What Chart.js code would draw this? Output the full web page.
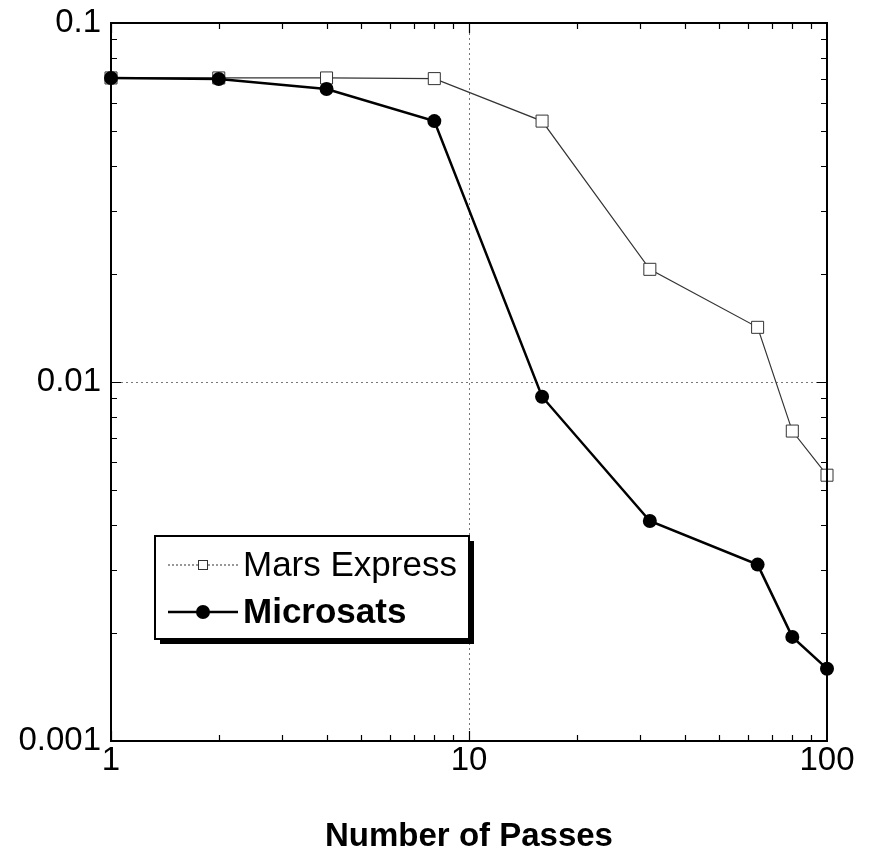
<!DOCTYPE html>
<html>
<head>
<meta charset="utf-8">
<script src="https://cdn.jsdelivr.net/npm/chart.js@4/dist/chart.umd.min.js"></script>
<style>
	html, body { margin: 0; padding: 0; background: #fff; }
	#wrap { width: 876px; height: 864px; position: relative; }
</style>
</head>
<body>
<div id="wrap"><canvas id="passes"></canvas></div>
<script>

// number of passes (x) and the two series (y)
var passes = [1, 2, 4, 8, 16, 32, 64, 80, 100];
var marsExpress = [0.0703, 0.0703, 0.0703, 0.0700, 0.0533, 0.0206, 0.0142, 0.0073, 0.0055];
var microsats = [0.0703, 0.0698, 0.0655, 0.0533, 0.0091, 0.0041, 0.0031, 0.00195, 0.00159];

var xTicks = [1, 10, 100];
var xTickLabels = ["1", "10", "100"];
var yTicks = [0.001, 0.01, 0.1];
var yTickLabels = ["0.001", "0.01", "0.1"];

var FONT = "'Liberation Sans', Arial, Helvetica, sans-serif";

function toPoints(xs, ys) {
	return xs.map(function(x, i) { return { x : x, y : ys[i] }; });
}

// frame with inward minor/major tick marks on all four sides
var framePlugin = {
	id : "frame",
	afterDatasetsDraw : function(chart) {
		var c = chart.ctx, a = chart.chartArea;
		var xs = chart.scales.x, ys = chart.scales.y;
		c.save();
		c.strokeStyle = "#000";
		c.lineWidth = 1.2;
		c.beginPath();
		for (var d = 1; d < 100; d *= 10) {
			for (var m = 1; m <= 9; m++) {
				var px = Math.round(xs.getPixelForValue(d * m)) + 0.5;
				var len = (m === 1) ? 10 : 6;
				c.moveTo(px, a.bottom); c.lineTo(px, a.bottom - len);
				c.moveTo(px, a.top); c.lineTo(px, a.top + len);
			}
		}
		for (var e = 0.001; e < 0.1; e *= 10) {
			for (var n = 1; n <= 9; n++) {
				var py = Math.round(ys.getPixelForValue(e * n)) + 0.5;
				var l2 = (n === 1) ? 10 : 6;
				c.moveTo(a.left, py); c.lineTo(a.left + l2, py);
				c.moveTo(a.right, py); c.lineTo(a.right - l2, py);
			}
		}
		c.stroke();
		c.lineWidth = 2;
		c.strokeRect(a.left, a.top, a.right - a.left, a.bottom - a.top);
		c.restore();
	}
};

// boxed legend with a drop shadow, placed inside the plot
var legendPlugin = {
	id : "boxLegend",
	afterDraw : function(chart) {
		var c = chart.ctx;
		var bx = 155, by = 536, bw = 314, bh = 103;
		c.save();
		c.fillStyle = "#000";
		c.fillRect(bx + 5, by + 5, bw, bh);
		c.fillStyle = "#fff";
		c.fillRect(bx, by, bw, bh);
		c.strokeStyle = "#000";
		c.lineWidth = 2;
		c.strokeRect(bx, by, bw, bh);

		var rows = [565, 612];
		chart.data.datasets.forEach(function(ds, i) {
			var y = rows[i];
			c.strokeStyle = ds.borderColor;
			c.lineWidth = ds.borderWidth;
			if (ds.pointStyle === "rect") c.setLineDash([2, 2]);
			c.beginPath();
			c.moveTo(168, y); c.lineTo(238, y);
			c.stroke();
			c.setLineDash([]);
			if (ds.pointStyle === "rect") {
				c.fillStyle = "#fff";
				c.fillRect(198, y - 5, 10, 10);
				c.lineWidth = 1;
				c.strokeStyle = ds.pointBorderColor;
				c.strokeRect(198.5, y - 4.5, 9, 9);
			} else {
				c.fillStyle = ds.pointBackgroundColor;
				c.beginPath();
				c.arc(203, y, 7, 0, Math.PI * 2);
				c.fill();
			}
			c.fillStyle = "#000";
			c.textBaseline = "middle";
			c.textAlign = "left";
			c.font = (i === 1 ? "bold " : "") + "35px " + FONT;
			c.fillText(ds.label, 243, y + 1);
		});
		c.restore();
	}
};

var data = {
	datasets : [
		{
			label : "Mars Express",
			data : toPoints(passes, marsExpress),
			showLine : true,
			borderColor : "#333",
			borderWidth : 1.2,
			pointStyle : "rect",
			pointRadius : 8.5,
			pointBackgroundColor : "#fff",
			pointBorderColor : "#333",
			pointBorderWidth : 1,
			clip : false,
			order : 1
		},
		{
			label : "Microsats",
			data : toPoints(passes, microsats),
			showLine : true,
			borderColor : "#000",
			borderWidth : 2.5,
			pointStyle : "circle",
			pointRadius : 7,
			pointBackgroundColor : "#000",
			pointBorderColor : "#000",
			pointBorderWidth : 0,
			clip : false,
			order : 0
		}
	]
};

var options = {
	responsive : false,
	animation : false,
	layout : { padding : { left : 0, right : 49, top : 23, bottom : 0 } },
	plugins : {
		legend : { display : false },
		tooltip : { enabled : false }
	},
	scales : {
		x : {
			type : "logarithmic",
			min : 1,
			max : 100,
			afterBuildTicks : function(scale) {
				scale.ticks = xTicks.map(function(v) { return { value : v }; });
			},
			afterFit : function(scale) {
				scale.height = 123;
				scale.paddingLeft = 0;
				scale.paddingRight = 0;
			},
			grid : {
				drawTicks : false,
				lineWidth : 1,
				color : function(ctx) {
					return ctx.tick && ctx.tick.value === 10 ? "#777" : "rgba(0,0,0,0)";
				}
			},
			border : { display : false, dash : [2, 3] },
			ticks : {
				color : "#000",
				font : { family : FONT, size : 33 },
				padding : 0,
				maxRotation : 0,
				autoSkip : false,
				callback : function(v) {
					var k = xTicks.indexOf(v);
					return k < 0 ? "" : xTickLabels[k];
				}
			},
			title : {
				display : true,
				text : "Number of Passes",
				color : "#000",
				font : { family : FONT, size : 33, weight : "bold" },
				padding : { top : 0, bottom : 7 }
			}
		},
		y : {
			type : "logarithmic",
			min : 0.001,
			max : 0.1,
			afterBuildTicks : function(scale) {
				scale.ticks = yTicks.map(function(v) { return { value : v }; });
			},
			afterFit : function(scale) {
				scale.width = 111;
				scale.paddingTop = 0;
				scale.paddingBottom = 0;
			},
			grid : {
				drawTicks : false,
				lineWidth : 1,
				color : function(ctx) {
					return ctx.tick && Math.abs(ctx.tick.value - 0.01) < 1e-9 ? "#777" : "rgba(0,0,0,0)";
				}
			},
			border : { display : false, dash : [2, 3] },
			ticks : {
				color : "#000",
				font : { family : FONT, size : 33 },
				padding : 10,
				autoSkip : false,
				callback : function(v) {
					for (var k = 0; k < yTicks.length; k++) {
						if (Math.abs(yTicks[k] - v) < 1e-9) return yTickLabels[k];
					}
					return "";
				}
			}
		}
	}
};

var canvas = document.getElementById("passes");
canvas.width = 876;
canvas.height = 864;

var chart = new Chart(canvas, {
	type : "scatter",
	data : data,
	options : options,
	plugins : [framePlugin, legendPlugin]
});

</script>
</body>
</html>
